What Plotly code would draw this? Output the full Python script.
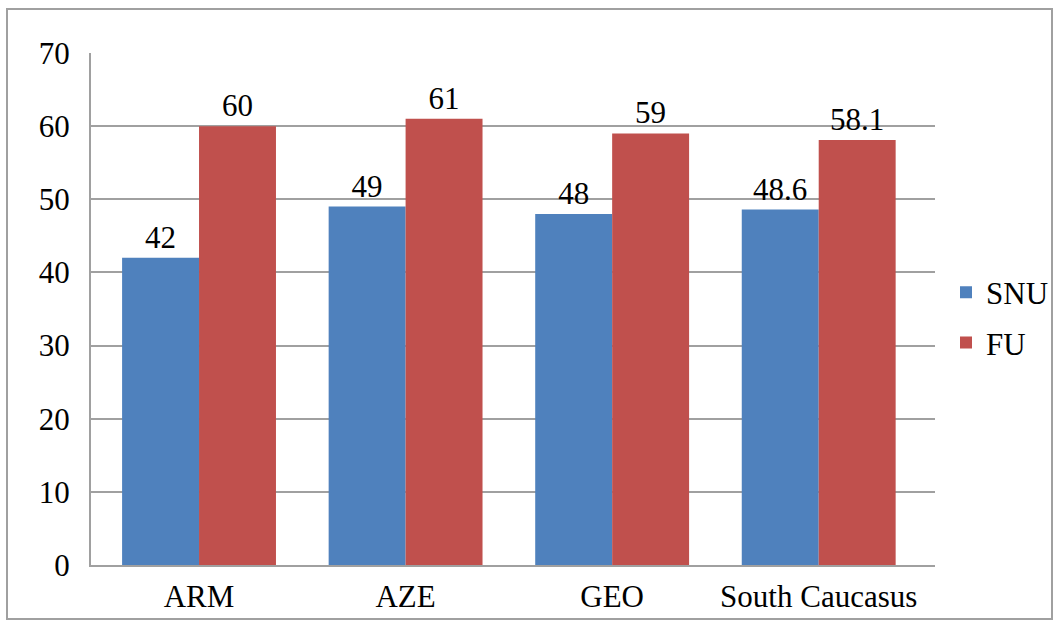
import plotly.graph_objects as go

categories = ["ARM", "AZE", "GEO", "South Caucasus"]
snu_values = [42, 49, 48, 48.6]
fu_values = [60, 61, 59, 58.1]
snu_labels = ["42", "49", "48", "48.6"]
fu_labels = ["60", "61", "59", "58.1"]
y_ticks = [0, 10, 20, 30, 40, 50, 60, 70]

FONT = "Liberation Serif, Times New Roman, DejaVu Serif, serif"
FS = 31
fig = go.Figure()
fig.add_trace(go.Bar(name="SNU", x=categories, y=snu_values, text=snu_labels,
                     legendgroup="snu",
                     textposition="outside", marker=dict(color="#4F81BD", line=dict(width=0)),
                     textfont=dict(family=FONT, size=FS, color="#000000"), cliponaxis=False))
fig.add_trace(go.Bar(name="FU", x=categories, y=fu_values, text=fu_labels,
                     legendgroup="fu",
                     textposition="outside", marker=dict(color="#C0504D", line=dict(width=0)),
                     textfont=dict(family=FONT, size=FS, color="#000000"), cliponaxis=False))

L, R, T, B = 91, 125, 53, 57
W, H = 1060, 622
pw, ph = W - L - R, H - T - B

fig.update_layout(
    width=W, height=H,
    margin=dict(l=L, r=R, t=T, b=B, autoexpand=False),
    paper_bgcolor="white", plot_bgcolor="white",
    barmode="group", bargap=0.255, bargroupgap=0,
    font=dict(family=FONT, size=FS, color="#000000"),
    uniformtext=dict(minsize=FS, mode="show"),
    legend=dict(x=(946 - L) / pw, y=(565 - 317.5) / ph, xanchor="left", yanchor="middle",
                font=dict(family=FONT, size=FS), traceorder="grouped",
                tracegroupgap=7, itemwidth=30, bgcolor="rgba(0,0,0,0)"),
    xaxis=dict(showgrid=False, showline=True, linecolor="#A0A0A0", linewidth=2,
               range=[-0.523, 3.563],
               ticks="", tickfont=dict(family=FONT, size=FS), ticklabelstandoff=3),
    yaxis=dict(range=[0, 70], tickvals=y_ticks, showgrid=True, gridcolor="#A0A0A0",
               gridwidth=2, showline=True, linecolor="#A0A0A0", linewidth=2,
               ticks="", tickfont=dict(family=FONT, size=FS), ticklabelstandoff=13,
               zeroline=False),
    shapes=[dict(type="rect", xref="paper", yref="paper",
                 x0=(7 - L) / pw, x1=(1052 - L) / pw,
                 y0=(H - B - 619) / ph, y1=(H - B - 9) / ph,
                 line=dict(color="#A0A0A0", width=2), fillcolor="rgba(0,0,0,0)", layer="below")],
)

fig.write_html("out.html", config={"displayModeBar": False},
               post_script="document.body.style.margin='0';document.body.style.overflow='hidden';")
